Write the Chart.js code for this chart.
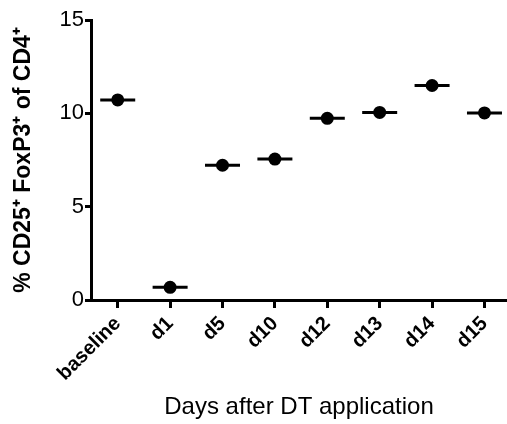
<!DOCTYPE html>
<html>
<head>
<meta charset="utf-8">
<script src="https://cdn.jsdelivr.net/npm/chart.js@4.4.0/dist/chart.umd.min.js"></script>
<style>
  html, body { margin: 0; padding: 0; background: #fff; }
  #wrap { width: 507px; height: 424px; position: relative; }
</style>
</head>
<body>
<div id="wrap"><canvas id="chart"></canvas></div>
<script>
// --- DATA ---
const categories = ['baseline', 'd1', 'd5', 'd10', 'd12', 'd13', 'd14', 'd15'];
const values = [10.72, 0.68, 7.22, 7.55, 9.73, 10.05, 11.49, 10.02];
const yTicks = [0, 5, 10, 15];

const xTitle = 'Days after DT application';
const yTitle = '% CD25\u207A FoxP3\u207A of CD4\u207A';

const FONT = "'Liberation Sans', Arial, sans-serif";
const points = values.map((v, i) => ({ x: i, y: v }));

new Chart(document.getElementById('chart'), {
    type: 'scatter',
    data: {
        datasets: [
            { // mean bars
                data: points,
                pointStyle: 'line',
                pointRadius: 17.5,
                pointBorderWidth: 3,
                pointBorderColor: '#000',
                pointBackgroundColor: '#000',
                showLine: false
            },
            { // individual points
                data: points,
                pointStyle: 'circle',
                pointRadius: 6.5,
                pointBorderWidth: 0,
                pointBackgroundColor: '#000',
                showLine: false
            }
        ]
    },
    options: {
        responsive: true, maintainAspectRatio: false, animation: false,
        layout: { autoPadding: false, padding: { top: 20, right: 0, left: 0, bottom: 0 } },
        plugins: { legend: { display: false }, tooltip: { enabled: false } },
        scales: {
            x: {
                type: 'linear', min: -0.51, max: 7.43,
                afterBuildTicks: s => { s.ticks = categories.map((c, i) => ({ value: i })); },
                afterFit: s => { s.height = 124; s.paddingRight = 0; s.paddingLeft = 0; },
                border: { display: true, color: '#000', width: 3 },
                grid: { drawOnChartArea: false, drawTicks: true, tickLength: 8, tickWidth: 3, tickColor: '#000' },
                ticks: {
                    color: '#000', padding: 4, minRotation: 45, maxRotation: 45, autoSkip: false,
                    font: { family: FONT, size: 20, weight: 'bold' },
                    callback: v => categories[v]
                },
                title: { display: true, text: xTitle, color: '#000', padding: { top: 0, bottom: 2 }, font: { family: FONT, size: 24 } }
            },
            y: {
                min: 0, max: 15,
                afterBuildTicks: s => { s.ticks = yTicks.map(v => ({ value: v })); },
                afterFit: s => { s.width = 91; },
                border: { display: true, color: '#000', width: 3 },
                grid: { drawOnChartArea: false, drawTicks: true, tickLength: 6, tickWidth: 3, tickColor: '#000' },
                ticks: { color: '#000', padding: 1, font: { family: FONT, size: 22 } },
                title: { display: true, text: yTitle, color: '#000', padding: { top: 10, bottom: 0 }, font: { family: FONT, size: 23, weight: 'bold' } }
            }
        }
    }
});
</script>
</body>
</html>
